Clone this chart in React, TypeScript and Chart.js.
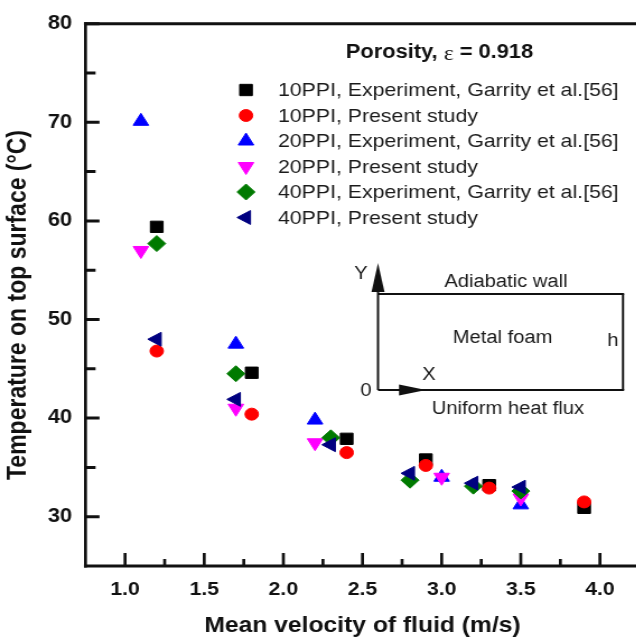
import React, { useEffect, useRef } from 'react';
import { Chart, registerables } from 'chart.js';
import { drawPoint } from 'chart.js/helpers';

Chart.register(...registerables);

// The figure is drawn on a narrower canvas and widened horizontally by CSS.
const STRETCH = 1.12;
const CANVAS_W = 580;
const CANVAS_H = 637;

// Mean velocity of fluid (m/s) per foam type
const velocity10 = [1.2, 1.8, 2.4, 2.9, 3.3, 3.9];
const velocity20 = [1.1, 1.7, 2.2, 3.0, 3.5];
const velocity40 = [1.2, 1.7, 2.3, 2.8, 3.2, 3.5];

// Temperature on top surface (°C)
const exp10PPI = [59.4, 44.6, 37.9, 35.8, 33.2, 30.9];
const present10PPI = [46.8, 40.4, 36.5, 35.2, 32.9, 31.5];
const exp20PPI = [70.1, 47.5, 39.8, 34.0, 31.2];
const present20PPI = [57.0, 41.0, 37.5, 34.0, 31.9];
const exp40PPI = [57.7, 44.5, 38.0, 33.7, 33.1, 32.6];
const present40PPI = [48.0, 41.9, 37.3, 34.4, 33.4, 33.0];

const xTicks = [1.0, 1.5, 2.0, 2.5, 3.0, 3.5, 4.0];
const xMinorTicks = [1.25, 1.75, 2.25, 2.75, 3.25, 3.75];
const yTicks = [30, 40, 50, 60, 70, 80];
const yMinorTicks = [35, 45, 55, 65, 75];

// legend heading: bold text with a serif epsilon in the middle
const legendTitleParts = ['Porosity, ', '\u03b5', ' = 0.918'];
const seriesLabels = [
  '10PPI, Experiment, Garrity et al.[56]',
  '10PPI, Present study',
  '20PPI, Experiment, Garrity et al.[56]',
  '20PPI, Present study',
  '40PPI, Experiment, Garrity et al.[56]',
  '40PPI, Present study',
];

const FAMILY = '"Liberation Sans", Arial, Helvetica, sans-serif';
const SERIF = '"Liberation Serif", "Times New Roman", serif';
const font = (size: number, weight = 'normal') => `${weight} ${size}px ${FAMILY}`;
const INK = '#111';

type Series = {
  xs: number[];
  ys: number[];
  color: string;
  style: string;
  rotation: number;
  radius: number;
};

const series: Series[] = [
  { xs: velocity10, ys: exp10PPI, color: '#000000', style: 'rect', rotation: 0, radius: 8 },
  { xs: velocity10, ys: present10PPI, color: '#ff0000', style: 'circle', rotation: 0, radius: 6 },
  { xs: velocity20, ys: exp20PPI, color: '#0000ff', style: 'triangle', rotation: 0, radius: 8 },
  { xs: velocity20, ys: present20PPI, color: '#ff00ff', style: 'triangle', rotation: 180, radius: 8 },
  { xs: velocity40, ys: exp40PPI, color: '#007a00', style: 'rectRot', rotation: 0, radius: 8 },
  { xs: velocity40, ys: present40PPI, color: '#000080', style: 'triangle', rotation: -90, radius: 8 },
];

const sx = (realX: number) => realX / STRETCH;

const decorPlugin = {
  id: 'decor',
  afterDraw(chart: any) {
    const { ctx, chartArea: a, scales } = chart;
    const xs = scales.x;
    const ys = scales.y;
    ctx.save();
    ctx.strokeStyle = INK;
    ctx.fillStyle = INK;
    ctx.lineCap = 'butt';

    // frame
    ctx.lineWidth = 3;
    ctx.beginPath();
    ctx.moveTo(a.left - 1.4, a.bottom);
    ctx.lineTo(a.right + 1.4, a.bottom);
    ctx.moveTo(a.left - 1.4, a.top);
    ctx.lineTo(a.right + 1.4, a.top);
    ctx.stroke();
    ctx.lineWidth = 3 / STRETCH;
    ctx.beginPath();
    ctx.moveTo(a.left, a.top - 1.5);
    ctx.lineTo(a.left, a.bottom + 1.5);
    ctx.moveTo(a.right, a.top - 1.5);
    ctx.lineTo(a.right, a.bottom + 1.5);
    ctx.stroke();

    // inward ticks on x
    ctx.beginPath();
    xTicks.forEach((v) => {
      const p = xs.getPixelForValue(v);
      ctx.moveTo(p, a.bottom);
      ctx.lineTo(p, a.bottom - 13);
    });
    xMinorTicks.forEach((v) => {
      const p = xs.getPixelForValue(v);
      ctx.moveTo(p, a.bottom);
      ctx.lineTo(p, a.bottom - 7);
    });
    ctx.stroke();

    // inward ticks on y
    ctx.lineWidth = 3;
    ctx.beginPath();
    yTicks.forEach((v) => {
      const p = ys.getPixelForValue(v);
      ctx.moveTo(a.left, p);
      ctx.lineTo(a.left + 12.5, p);
    });
    yMinorTicks.forEach((v) => {
      const p = ys.getPixelForValue(v);
      ctx.moveTo(a.left, p);
      ctx.lineTo(a.left + 9, p);
    });
    ctx.stroke();

    // y axis title
    ctx.save();
    ctx.translate(sx(19), 305);
    ctx.rotate(-Math.PI / 2);
    ctx.font = font(23, 'bold');
    ctx.textAlign = 'center';
    ctx.textBaseline = 'middle';
    ctx.fillText('Temperature on top surface (\u00b0C)', 0, 0);
    ctx.restore();

    // legend heading
    ctx.textBaseline = 'middle';
    ctx.textAlign = 'left';
    const headFonts = [font(19.5, 'bold'), `normal 21px ${SERIF}`, font(19.5, 'bold')];
    const widths = legendTitleParts.map((t, i) => {
      ctx.font = headFonts[i];
      return ctx.measureText(t).width;
    });
    let hx = sx(439.5) - widths.reduce((s, w) => s + w, 0) / 2;
    legendTitleParts.forEach((t, i) => {
      ctx.font = headFonts[i];
      ctx.fillText(t, hx, i === 1 ? 54 : 53);
      hx += widths[i];
    });

    // legend entries
    ctx.font = font(19);
    series.forEach((s, i) => {
      const y = 90 + i * 25.5;
      ctx.save();
      ctx.fillStyle = s.color;
      ctx.strokeStyle = s.color;
      ctx.lineWidth = 1;
      drawPoint(ctx, { pointStyle: s.style, radius: s.radius, rotation: s.rotation, borderWidth: 1 }, sx(246), y);
      ctx.restore();
      ctx.fillStyle = '#1a1a1a';
      ctx.fillText(seriesLabels[i], sx(278), y + 1);
    });

    // inset: computational domain sketch
    const bl = sx(378);
    const br = sx(623);
    const bt = 294;
    const bb = 390;
    ctx.strokeStyle = INK;
    ctx.fillStyle = INK;
    ctx.lineWidth = 2;
    ctx.beginPath();
    ctx.moveTo(bl, bt);
    ctx.lineTo(br + 1, bt);
    ctx.moveTo(bl, bb);
    ctx.lineTo(br + 1, bb);
    ctx.stroke();
    ctx.lineWidth = 2.2 / STRETCH;
    ctx.beginPath();
    ctx.moveTo(br, bt);
    ctx.lineTo(br, bb);
    ctx.moveTo(bl, bb);
    ctx.lineTo(bl, 288);
    ctx.stroke();
    // Y arrow head
    ctx.beginPath();
    ctx.moveTo(bl, 263);
    ctx.lineTo(bl - sx(6.5), 292);
    ctx.lineTo(bl + sx(6.5), 292);
    ctx.closePath();
    ctx.fill();
    // X arrow head
    ctx.beginPath();
    ctx.moveTo(sx(426), bb);
    ctx.lineTo(sx(399), bb - 5.5);
    ctx.lineTo(sx(399), bb + 5.5);
    ctx.closePath();
    ctx.fill();

    ctx.font = font(18);
    ctx.textAlign = 'center';
    ctx.textBaseline = 'middle';
    ctx.fillStyle = '#1a1a1a';
    ctx.fillText('Y', sx(361), 274);
    ctx.fillText('Adiabatic wall', sx(506), 282);
    ctx.fillText('Metal foam', sx(502.5), 338);
    ctx.fillText('h', sx(613), 341);
    ctx.fillText('X', sx(429), 375);
    ctx.fillText('0', sx(366), 391);
    ctx.fillText('Uniform heat flux', sx(508), 409);

    ctx.restore();
  },
};

export default function App() {
  const canvasRef = useRef<HTMLCanvasElement | null>(null);

  useEffect(() => {
    const canvas = canvasRef.current;
    if (!canvas) return;

    const datasets = series.map((s, i) => ({
      label: seriesLabels[i],
      data: s.xs.map((x, j) => ({ x, y: s.ys[j] })),
      pointStyle: s.style,
      pointRotation: s.rotation,
      pointRadius: s.radius,
      pointHoverRadius: s.radius,
      backgroundColor: s.color,
      borderColor: s.color,
      pointBorderWidth: 1,
      showLine: false,
      order: series.length - i,
    }));

    const chart = new Chart(canvas, {
      type: 'scatter',
      data: { datasets },
      plugins: [decorPlugin],
      options: {
        animation: false,
        responsive: false,
        devicePixelRatio: 1,
        events: [],
        layout: { padding: { top: 21, right: CANVAS_W - sx(640), left: 0, bottom: 0 } },
        plugins: { legend: { display: false }, tooltip: { enabled: false } },
        scales: {
          x: {
            type: 'linear',
            position: 'bottom',
            min: 0.75,
            max: 4.25,
            afterBuildTicks: (scale: any) => {
              scale.ticks = xTicks.map((value) => ({ value }));
            },
            afterFit: (scale: any) => {
              scale.height = CANVAS_H - 566;
            },
            grid: { display: false, drawTicks: false },
            border: { display: false },
            ticks: {
              padding: 12,
              color: INK,
              font: { family: FAMILY, size: 19, weight: 'bold' },
              callback: (v: any) => Number(v).toFixed(1),
              maxRotation: 0,
              autoSkip: false,
            },
            title: {
              display: true,
              text: 'Mean velocity of fluid (m/s)',
              color: INK,
              font: { family: FAMILY, size: 22, weight: 'bold', lineHeight: 1 },
              padding: { top: 0, bottom: 0 },
            },
          },
          y: {
            type: 'linear',
            position: 'left',
            min: 25,
            max: 80,
            afterBuildTicks: (scale: any) => {
              scale.ticks = yTicks.map((value) => ({ value }));
            },
            afterFit: (scale: any) => {
              scale.width = sx(85.5);
            },
            grid: { display: false, drawTicks: false },
            border: { display: false },
            ticks: {
              padding: 12,
              color: INK,
              font: { family: FAMILY, size: 19.5, weight: 'bold' },
              callback: (v: any) => String(v),
              autoSkip: false,
            },
          },
        },
      },
    });

    return () => chart.destroy();
  }, []);

  return (
    <div
      style={{
        position: 'fixed',
        left: 0,
        top: 0,
        width: 636,
        height: 637,
        overflow: 'hidden',
        background: '#ffffff',
      }}
    >
      <div
        style={{
          width: CANVAS_W,
          height: CANVAS_H,
          transform: `scaleX(${STRETCH})`,
          transformOrigin: '0 0',
        }}
      >
        <canvas ref={canvasRef} width={CANVAS_W} height={CANVAS_H} style={{ display: 'block' }} />
      </div>
    </div>
  );
}
